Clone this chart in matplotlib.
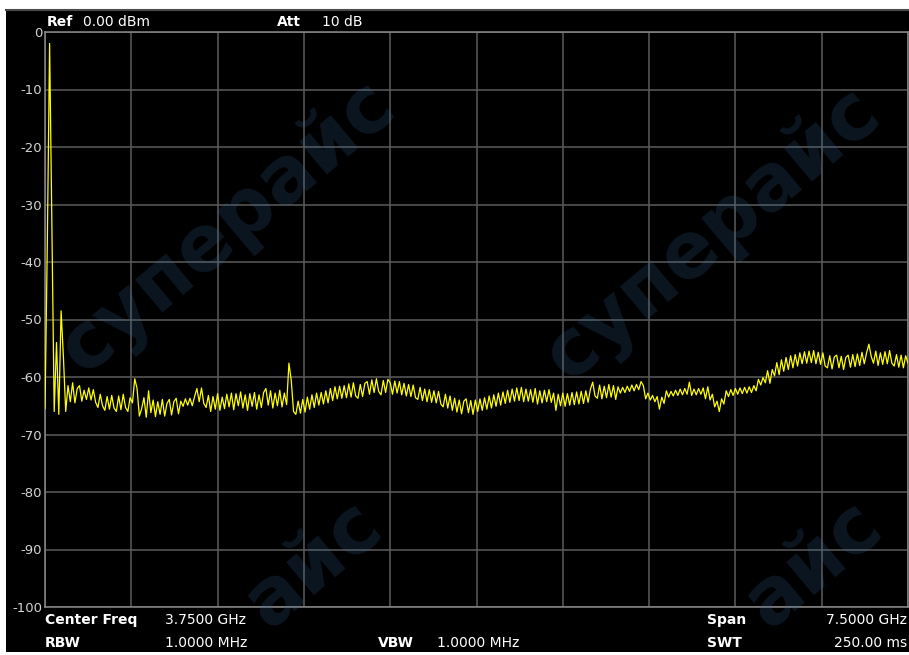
import numpy as np
import matplotlib
matplotlib.use("Agg")
import matplotlib.pyplot as plt
from matplotlib.patches import Rectangle
from matplotlib.lines import Line2D

W, H = 909, 655

# ---- data -------------------------------------------------------------
start_ghz, stop_ghz = 0.0, 7.5
level_dbm = [
    -65.5, -37.0, -2.0, -33.5, -66.0, -54.0, -66.5, -48.5, -56.5, -66.0,
    -61.5, -64.3, -61.0, -64.5, -62.0, -61.5, -64.2, -62.3, -63.9, -61.9,
    -64.0, -62.2, -64.4, -65.3, -63.0, -65.0, -65.8, -63.4, -65.6, -63.2,
    -65.4, -66.0, -63.3, -65.7, -63.0, -65.3, -66.0, -63.6, -64.5, -60.3,
    -62.0, -66.8, -65.5, -63.6, -67.0, -62.4, -66.2, -64.0, -66.9, -64.3,
    -66.5, -63.9, -66.8, -64.6, -63.9, -66.6, -64.3, -63.7, -66.4, -64.2,
    -65.1, -63.8, -64.9, -63.7, -65.0, -63.4, -62.0, -64.3, -61.9, -64.6,
    -65.3, -63.2, -66.0, -63.4, -65.6, -62.9, -65.8, -63.5, -65.5, -63.0,
    -65.2, -62.8, -65.7, -62.9, -65.0, -62.6, -65.4, -63.1, -65.8, -62.9,
    -65.1, -62.7, -65.6, -63.1, -65.3, -62.7, -62.0, -64.9, -62.4, -65.4,
    -62.8, -65.0, -62.3, -65.2, -62.8, -64.8, -57.6, -60.6, -66.0, -66.5,
    -64.2, -66.3, -63.9, -66.1, -63.5, -65.6, -63.1, -65.3, -62.8, -64.9,
    -62.7, -64.7, -62.4, -64.5, -62.0, -64.1, -61.7, -63.8, -61.6, -63.7,
    -61.5, -63.6, -61.2, -63.5, -61.0, -63.3, -63.7, -61.3, -63.4, -61.1,
    -60.8, -63.0, -60.5, -62.7, -60.3, -62.5, -63.1, -60.6, -62.7, -60.4,
    -61.0, -63.0, -60.7, -62.8, -60.8, -63.1, -61.1, -63.3, -61.3, -63.4,
    -61.4, -63.6, -63.9, -61.8, -64.1, -62.1, -64.3, -62.2, -64.4, -62.4,
    -64.5, -62.5, -64.7, -65.2, -63.0, -65.4, -63.3, -65.8, -63.7, -66.1,
    -64.0, -66.4, -64.2, -63.8, -66.2, -64.1, -66.5, -64.0, -66.0, -63.8,
    -65.8, -63.6, -65.6, -63.3, -65.4, -63.1, -65.1, -62.8, -64.9, -62.6,
    -64.6, -62.3, -64.4, -62.1, -64.2, -61.9, -64.1, -61.8, -64.3, -62.1,
    -64.2, -62.2, -64.4, -62.0, -64.7, -62.4, -64.5, -62.3, -64.3, -62.2,
    -64.4, -62.8, -65.8, -63.0, -65.0, -62.8, -65.1, -62.9, -64.9, -62.7,
    -64.8, -62.6, -64.7, -62.5, -64.6, -62.4, -64.4, -62.1, -60.9, -63.3,
    -63.7, -61.4, -63.8, -61.6, -63.6, -61.3, -63.5, -61.5, -63.9, -61.7,
    -62.8, -61.8, -62.7, -61.6, -62.5, -61.4, -62.4, -61.3, -62.2, -60.8,
    -61.5, -63.8, -62.8, -64.0, -63.2, -64.3, -63.4, -65.6, -63.5, -64.6,
    -62.4, -63.5, -62.5, -63.3, -62.3, -63.2, -62.1, -63.1, -62.0, -63.0,
    -60.9, -63.2, -62.1, -63.1, -62.0, -63.0, -61.9, -63.8, -61.7, -64.0,
    -63.0, -65.2, -64.2, -66.0, -63.8, -64.7, -62.4, -63.4, -62.2, -63.2,
    -62.0, -63.0, -61.9, -62.9, -61.8, -62.8, -61.7, -62.7, -61.5, -62.4,
    -60.4, -61.4, -60.1, -61.0, -58.9, -61.1, -58.7, -59.8, -57.5, -59.6,
    -57.0, -59.0, -56.6, -58.7, -56.3, -58.4, -56.1, -58.1, -55.8, -57.7,
    -55.6, -57.6, -55.5, -57.5, -55.4, -57.7, -55.7, -57.8, -55.8, -58.1,
    -58.4, -56.3, -58.6, -56.5, -56.2, -58.4, -56.4, -58.7, -56.6, -56.2,
    -58.3, -56.1, -58.2, -56.0, -58.0, -55.7, -57.7, -55.8, -54.3, -56.4,
    -57.6, -55.5, -58.0, -55.8, -57.8, -55.6, -57.7, -55.4, -57.6, -58.1,
    -56.1, -58.3, -56.2, -58.4, -56.3, -57.6,
]
y_ticks = [0, -10, -20, -30, -40, -50, -60, -70, -80, -90, -100]
y_tick_labels = ["0", "-10", "-20", "-30", "-40", "-50", "-60", "-70", "-80", "-90", "-100"]
x_divisions = 10

header_items = [("Ref", True, 47), ("0.00 dBm", False, 83), ("Att", True, 277), ("10 dB", False, 322)]
footer_row1 = [("Center Freq", True, 45, "left"), ("3.7500 GHz", False, 165, "left"),
               ("Span", True, 707, "left"), ("7.5000 GHz", False, 907, "right")]
footer_row2 = [("RBW", True, 45, "left"), ("1.0000 MHz", False, 165, "left"),
               ("VBW", True, 378, "left"), ("1.0000 MHz", False, 437, "left"),
               ("SWT", True, 707, "left"), ("250.00 ms", False, 907, "right")]
watermark_full = "суперайс"
watermark_tail = "айс"

# ---- figure -----------------------------------------------------------
plt.rcParams["font.family"] = ["DejaVu Sans"]
fig = plt.figure(figsize=(W / 100, H / 100), dpi=100, facecolor="white")

def fx(x):
    return x / W

def fy(y):
    return 1 - y / H

# black screen area (behind the axes)
fig.patches.append(Rectangle((fx(6), fy(652)), fx(909) - fx(6), fy(9) - fy(652),
                             transform=fig.transFigure, facecolor="black",
                             edgecolor="none", zorder=-10))
fig.lines.append(Line2D([fx(6), fx(909)], [fy(9.5), fy(9.5)], transform=fig.transFigure,
                        color="#4a4a4a", lw=1.5, zorder=-5))

ax = fig.add_axes([fx(45), fy(607), fx(908) - fx(45), fy(32) - fy(607)])
ax.set_zorder(1)
ax.set_facecolor("black")
freq = np.linspace(start_ghz, stop_ghz, len(level_dbm))
ax.plot(freq, level_dbm, color="#ffff00", lw=0.9, zorder=3)

ax.set_xlim(start_ghz, stop_ghz)
ax.set_ylim(-100, 0)
ax.set_xticks(np.linspace(start_ghz, stop_ghz, x_divisions + 1))
ax.set_xticklabels([])
ax.set_yticks(y_ticks)
ax.set_yticklabels(y_tick_labels)
ax.tick_params(axis="both", length=0)
ax.tick_params(axis="y", colors="#d4d4d4", labelsize=9.5, pad=2)
ax.grid(True, color="#5c5c5c", lw=1.1)
ax.set_axisbelow(True)
for s in ax.spines.values():
    s.set_color("#8a8a8a")
    s.set_linewidth(1.1)

for txt, bold, x in header_items:
    fig.text(fx(x), fy(22), txt, color="white", fontsize=10,
             fontweight="bold" if bold else "normal", ha="left", va="center", zorder=6)
for row, yy in ((footer_row1, 620), (footer_row2, 643)):
    for txt, bold, x, ha in row:
        fig.text(fx(x), fy(yy), txt, color="white", fontsize=10,
                 fontweight="bold" if bold else "normal", ha=ha, va="center", zorder=6)

# watermark (overlay)
for (x, y) in [(385, 95), (870, 102)]:
    fig.text(fx(x), fy(y), watermark_full, color="#3a6ea5", alpha=0.2, fontsize=56,
             fontweight="bold", rotation=40, rotation_mode="anchor",
             ha="right", va="center", zorder=5)
for (x, y) in [(372, 515), (872, 515)]:
    fig.text(fx(x), fy(y), watermark_tail, color="#3a6ea5", alpha=0.2, fontsize=56,
             fontweight="bold", rotation=40, rotation_mode="anchor",
             ha="right", va="center", zorder=5)

fig.savefig("out.png", dpi=100, facecolor="white")
